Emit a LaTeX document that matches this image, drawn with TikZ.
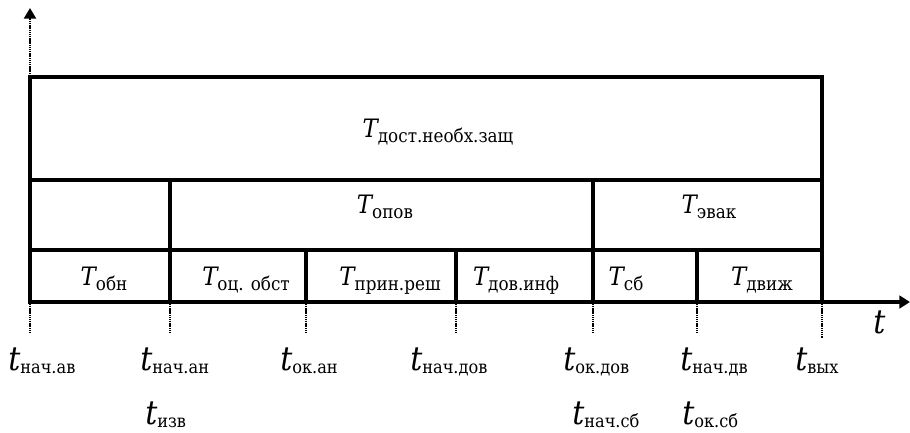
\documentclass[tikz,border=0pt]{standalone}
\usepackage{fontspec}
\setmainfont{DejaVu Serif Condensed}
\usetikzlibrary{arrows.meta}
\newcommand{\Tlab}[1]{{\fontsize{19}{19}\selectfont\itshape T}\raisebox{-4pt}{\fontsize{14}{14}\selectfont #1}}
\newcommand{\tlab}[1]{{\fontsize{25}{25}\selectfont\itshape t}\raisebox{-2.5pt}{\fontsize{13.5}{13.5}\selectfont #1}}
\begin{document}
\begin{tikzpicture}[x=0.75pt,y=-0.75pt,
  boxline/.style={line width=2.5pt,line cap=rect},
  axisline/.style={line width=2.5pt,-{Triangle[length=8pt,width=9.5pt]}},
  vaxis/.style={line width=1.6pt,dash pattern=on 0.9pt off 0.5pt,-{Triangle[length=8pt,width=9pt]}},
  tickline/.style={line width=1.2pt,dash pattern=on 0.9pt off 0.5pt},
  cell/.style={inner sep=0pt,anchor=base},
  tl/.style={inner sep=0pt,anchor=base west}]
\useasboundingbox (0,0) rectangle (910,432);
% axes
\coordinate (O) at (30,302);
\coordinate (Xend) at (910,302);
\coordinate (Yend) at (30,8);
\draw[vaxis] (O) -- (Yend);
\draw[axisline] (O) -- (Xend);
% boxes
\draw[boxline] (30,77) rectangle (822,302);
\draw[boxline] (30,180) -- (822,180);
\draw[boxline] (30,250) -- (822,250);
\draw[boxline] (170,180) -- (170,302);
\draw[boxline] (593,180) -- (593,302);
\draw[boxline] (306,250) -- (306,302);
\draw[boxline] (456,250) -- (456,302);
\draw[boxline] (697,250) -- (697,302);
% ticks
\foreach \n/\x/\l in {a/30/332,b/170/332,c/306/332,d/456/332,e/593/332,f/697/332,g/822/338}{
  \coordinate (\n top) at (\x,302);
  \coordinate (\n bot) at (\x,\l);
  \draw[tickline] (\n top) -- (\n bot);
}
% cell labels
\node[cell] (Tdost) at (438,137) {\Tlab{дост.необх.защ}};
\node[cell] (Topov) at (385,213) {\Tlab{опов}};
\node[cell] (Tevak) at (709,213) {\Tlab{эвак}};
\node[cell] (Tobn) at (104,285) {\Tlab{обн}};
\node[cell] (Toc) at (246,285) {\Tlab{оц. обст}};
\node[cell] (Tprin) at (390,285) {\Tlab{прин.реш}};
\node[cell] (Tdov) at (516,285) {\Tlab{дов.инф}};
\node[cell] (Tsb) at (626,285) {\Tlab{сб}};
\node[cell] (Tdv) at (762,285) {\Tlab{движ}};
% time labels
\node[tl] (t1) at (8,370) {\tlab{нач.ав}};
\node[tl] (t2) at (140,370) {\tlab{нач.ан}};
\node[tl] (t3) at (280,370) {\tlab{ок.ан}};
\node[tl] (t4) at (410,370) {\tlab{нач.дов}};
\node[tl] (t5) at (563,370) {\tlab{ок.дов}};
\node[tl] (t6) at (680,370) {\tlab{нач.дв}};
\node[tl] (t7) at (795,370) {\tlab{вых}};
\node[tl] (t8) at (145,424) {\tlab{изв}};
\node[tl] (t9) at (572,424) {\tlab{нач.сб}};
\node[tl] (t10) at (682,424) {\tlab{ок.сб}};
\node[tl] (tax) at (873,333) {\fontsize{25}{25}\selectfont\itshape t};
\end{tikzpicture}
\end{document}
